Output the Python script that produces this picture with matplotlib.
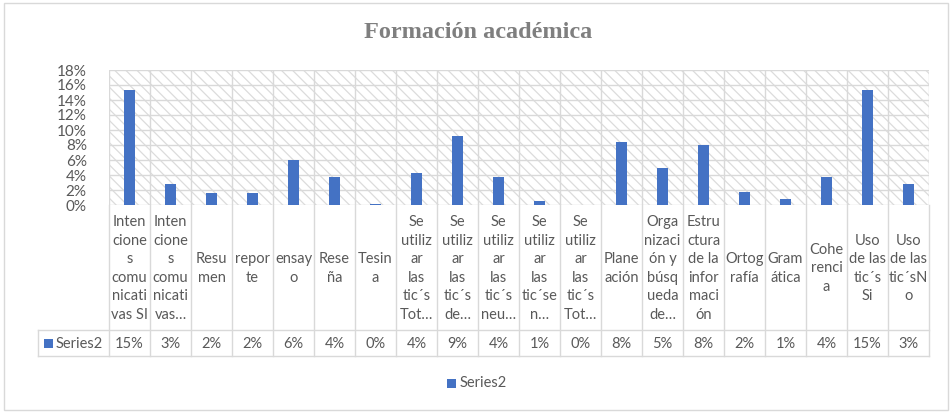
import matplotlib
matplotlib.use("Agg")
import matplotlib.pyplot as plt
from matplotlib.patches import Rectangle
from matplotlib.ticker import FuncFormatter

categories = [
    "Inten\ncione\ns\ncomu\nnicati\nvas SI",
    "Inten\ncione\ns\ncomu\nnicati\nvas…",
    "Resu\nmen",
    "repor\nte",
    "ensay\no",
    "Rese\nña",
    "Tesin\na",
    "Se\nutiliz\nar\nlas\ntic´s\nTot…",
    "Se\nutiliz\nar\nlas\ntic´s\nde…",
    "Se\nutiliz\nar\nlas\ntic´s\nneu…",
    "Se\nutiliz\nar\nlas\ntic´se\nn…",
    "Se\nutiliz\nar\nlas\ntic´s\nTot…",
    "Plane\nación",
    "Orga\nnizaci\nón y\nbúsq\nueda\nde…",
    "Estru\nctura\nde la\ninfor\nmaci\nón",
    "Ortog\nrafía",
    "Gram\nática",
    "Cohe\nrenci\na",
    "Uso\nde las\ntic´s\nSi",
    "Uso\nde las\ntic´sN\no",
]
series_name = "Series2"
values = [15.3, 2.8, 1.6, 1.6, 6.0, 3.8, 0.2, 4.3, 9.25, 3.8,
          0.6, 0.0, 8.4, 5.0, 8.0, 1.7, 0.8, 3.8, 15.3, 2.8]
yticks = [0, 2, 4, 6, 8, 10, 12, 14, 16, 18]
title = "Formación académica"

W, H = 952, 413
TXT = "#595959"
GRID = "#d9d9d9"
BAR = "#4472C4"
FONT = "Lato"

fig = plt.figure(figsize=(W / 100, H / 100), dpi=100)

def fx(px):
    return px / W

def fy(py):
    return 1 - py / H

def frect(x0, y0, x1, y1, **kw):
    # rectangle given in pixel coords (y from top), drawn in figure coords
    return Rectangle((fx(x0), fy(y1)), fx(x1 - x0), (y1 - y0) / H,
                     transform=fig.transFigure, **kw)

# outer chart border
fig.patches.append(frect(4, 3, 948, 410, fill=False, edgecolor=GRID, linewidth=1))

PL, PR, PT, PB = 109, 929, 70, 205
ax = fig.add_axes([fx(PL), fy(PB), fx(PR - PL), (PB - PT) / H])
n = len(categories)
x = list(range(n))
ax.set_xlim(-0.5, n - 0.5)
ax.set_ylim(0, 18)

plt.rcParams['hatch.linewidth'] = 0.9
bg = Rectangle((0, 0), 1, 1, transform=ax.transAxes, facecolor="white",
               edgecolor="#dcdcdc", hatch="\\\\\\", linewidth=0, zorder=0)
ax.add_patch(bg)

for t in yticks:
    ax.axhline(t, color=GRID, linewidth=1, zorder=1)
for b in range(n + 1):
    ax.axvline(b - 0.5, color=GRID, linewidth=1, zorder=1)

ax.bar(x, values, width=0.27, color=BAR, zorder=3)

ax.set_yticks(yticks)
ax.yaxis.set_major_formatter(FuncFormatter(lambda v, p: f"{int(v)}%"))
ax.tick_params(axis="y", length=0, pad=16, labelsize=11, labelcolor=TXT)
for lab in ax.get_yticklabels():
    lab.set_fontfamily(FONT)
ax.set_xticks([])
for s in ax.spines.values():
    s.set_visible(False)

# data table
TB = 356
tax = fig.add_axes([fx(PL), fy(TB), fx(PR - PL), (TB - PB) / H], sharex=ax)
tax.set_ylim(TB, PB)
tax.axis("off")
VT = 330
unit = (PR - PL) / n

def px2x(px):
    return -0.5 + (px - PL) / unit

LEFT = 38
line_kw = dict(color=GRID, linewidth=1, clip_on=False)
tax.plot([px2x(LEFT), n - 0.5], [VT, VT], **line_kw)
tax.plot([px2x(LEFT), n - 0.5], [TB, TB], **line_kw)
tax.plot([px2x(LEFT), px2x(LEFT)], [VT, TB], **line_kw)
for b in range(n + 1):
    tax.plot([b - 0.5, b - 0.5], [PB, TB], **line_kw)

for i, (c, v) in enumerate(zip(categories, values)):
    tax.text(i, (PB + VT) / 2 + 1, c, ha="center", va="center", fontsize=10.5,
             color=TXT, family=FONT, linespacing=1.42)
    tax.text(i, (VT + TB) / 2 + 1, f"{round(v)}%", ha="center", va="center",
             fontsize=10.5, color=TXT, family=FONT)

fig.patches.append(frect(44, 339, 53, 348, facecolor=BAR, edgecolor="none"))
tax.text(px2x(56), (VT + TB) / 2 + 1, series_name, ha="left", va="center",
         fontsize=10.5, color=TXT, family=FONT)

# title
fig.text(0.502, fy(33), title, ha="center", va="center", fontsize=17.5,
         fontweight="bold", color="#7f7f7f", family="Liberation Serif")

# legend
fig.patches.append(frect(447, 379, 456, 388, facecolor=BAR, edgecolor="none"))
fig.text(fx(460), fy(383), series_name, ha="left", va="center", fontsize=10.5,
         color=TXT, family=FONT)

fig.savefig("out.png", dpi=100)
